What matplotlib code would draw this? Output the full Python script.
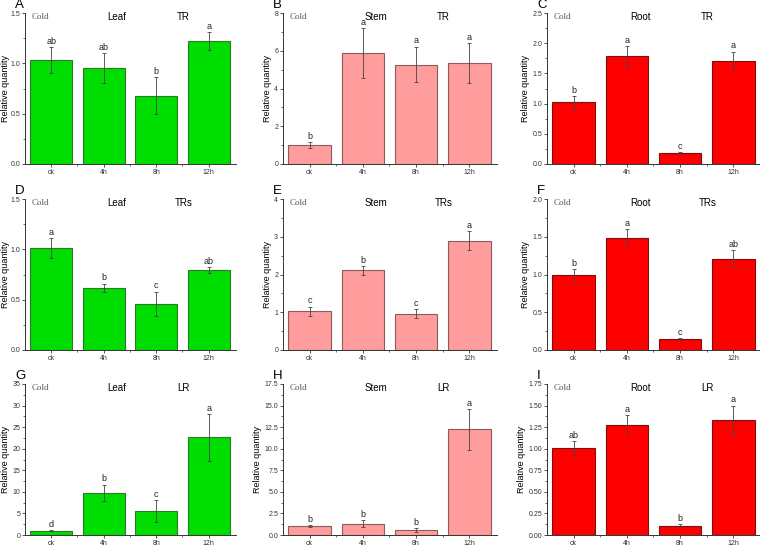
import matplotlib as mpl
mpl.use("Agg")
import matplotlib.pyplot as plt
import numpy as np
from matplotlib.ticker import MultipleLocator

plt.rcParams['font.family'] = ['Liberation Sans', 'DejaVu Sans']

# categories on the x axis
times = ['ck', '4h', '8h', '12h']

# panel info
letters = ['A', 'B', 'C', 'D', 'E', 'F', 'G', 'H', 'I']
tissues = ['Leaf', 'Stem', 'Root'] * 3
genes = ['TR'] * 3 + ['TRs'] * 3 + ['LR'] * 3

# bar heights
means = [
    [1.03, 0.95, 0.68, 1.22],
    [0.99, 5.88, 5.27, 5.35],
    [1.02, 1.78, 0.18, 1.71],
    [1.01, 0.62, 0.46, 0.79],
    [1.02, 2.11, 0.96, 2.90],
    [1.00, 1.49, 0.14, 1.21],
    [1.00, 9.84, 5.58, 22.6],
    [1.00, 1.32, 0.58, 12.23],
    [1.01, 1.28, 0.105, 1.33],
]
# error bar half-widths
errs = [
    [0.13, 0.15, 0.18, 0.09],
    [0.15, 1.33, 0.95, 1.06],
    [0.11, 0.17, 0.02, 0.15],
    [0.10, 0.04, 0.12, 0.03],
    [0.13, 0.11, 0.12, 0.25],
    [0.07, 0.11, 0.02, 0.11],
    [0.15, 1.86, 2.49, 5.4],
    [0.12, 0.38, 0.23, 2.37],
    [0.08, 0.11, 0.018, 0.17],
]
# significance letters
sig = [
    ['ab', 'ab', 'b', 'a'],
    ['b', 'a', 'a', 'a'],
    ['b', 'a', 'c', 'a'],
    ['a', 'b', 'c', 'ab'],
    ['c', 'b', 'c', 'a'],
    ['b', 'a', 'c', 'ab'],
    ['d', 'b', 'c', 'a'],
    ['b', 'b', 'b', 'a'],
    ['ab', 'a', 'b', 'a'],
]
# y axis: (max, major step, minor step)
yscales = [
    (1.5, 0.5, 0.25), (8, 2, 1), (2.5, 0.5, 0.25),
    (1.5, 0.5, 0.25), (4, 1, 0.5), (2.0, 0.5, 0.25),
    (35, 5, 2.5), (17.5, 2.5, 1.25), (1.75, 0.25, 0.125),
]

face = {'Leaf': '#00dd00', 'Stem': '#ff9c9c', 'Root': '#ff0000'}
edge = {'Leaf': '#2a7a2a', 'Stem': '#8a5c5c', 'Root': '#7a1010'}

W, H = 760, 546
fig = plt.figure(figsize=(W / 100, H / 100), dpi=100)

lefts = [25, 283, 547]
widths = [211, 214, 214]
tops = [13, 199, 384]
ah = 151

x = np.arange(len(times))
for k in range(9):
    r, c = divmod(k, 3)
    l, t, aw = lefts[c], tops[r], widths[c]
    ax = fig.add_axes([l / W, 1 - (t + ah) / H, aw / W, ah / H])
    tis = tissues[k]
    ax.bar(x, means[k], width=0.8, color=face[tis], edgecolor=edge[tis], linewidth=0.8, zorder=2)
    ax.errorbar(x, means[k], yerr=errs[k], fmt='none', ecolor='#444444', elinewidth=0.6,
                capsize=1.5, capthick=0.6, zorder=3)
    ymax, maj, mnr = yscales[k]
    for i in range(len(times)):
        ax.text(x[i], means[k][i] + errs[k][i] + ymax * 0.008, sig[k][i], ha='center', va='bottom',
                fontsize=6.5, color='#222222')
    ax.set_xlim(-0.5, 3.52)
    ax.set_ylim(0, ymax)
    ax.yaxis.set_major_locator(MultipleLocator(maj))
    ax.yaxis.set_minor_locator(MultipleLocator(mnr))
    ax.set_xticks(x)
    ax.set_xticklabels(times)
    ax.set_xticks(x[:-1] + 0.5, minor=True)
    for s in ['top', 'right']:
        ax.spines[s].set_visible(False)
    for s in ['left', 'bottom']:
        ax.spines[s].set_linewidth(0.7)
        ax.spines[s].set_color('#333333')
    ax.tick_params(axis='both', which='major', direction='out', length=2.5, width=0.6,
                   labelsize=5, pad=1, colors='#333333')
    ax.tick_params(axis='both', which='minor', direction='out', length=1.3, width=0.5,
                   colors='#333333')
    ax.set_ylabel('Relative quantity', fontsize=6.5, labelpad=1.5)
    if c == 0:
        # keep the label inside the figure on the left column
        ax.yaxis.set_label_coords((9.5 - l) / aw, 0.5)
    ax.text(0.03, 0.975, 'Cold', transform=ax.transAxes, ha='left', va='center',
            fontsize=6.5, family=['Liberation Serif', 'DejaVu Serif'], color='#555555')
    ax.text(0.435, 0.975, tis, transform=ax.transAxes, ha='center', va='center', fontsize=7)
    ax.text(0.75, 0.975, genes[k], transform=ax.transAxes, ha='center', va='center', fontsize=7)
    fig.text((l - 10) / W, 1 - (t - 8) / H, letters[k], ha='left', va='center', fontsize=9.5)

fig.savefig('out.png', dpi=100)
plt.close(fig)
